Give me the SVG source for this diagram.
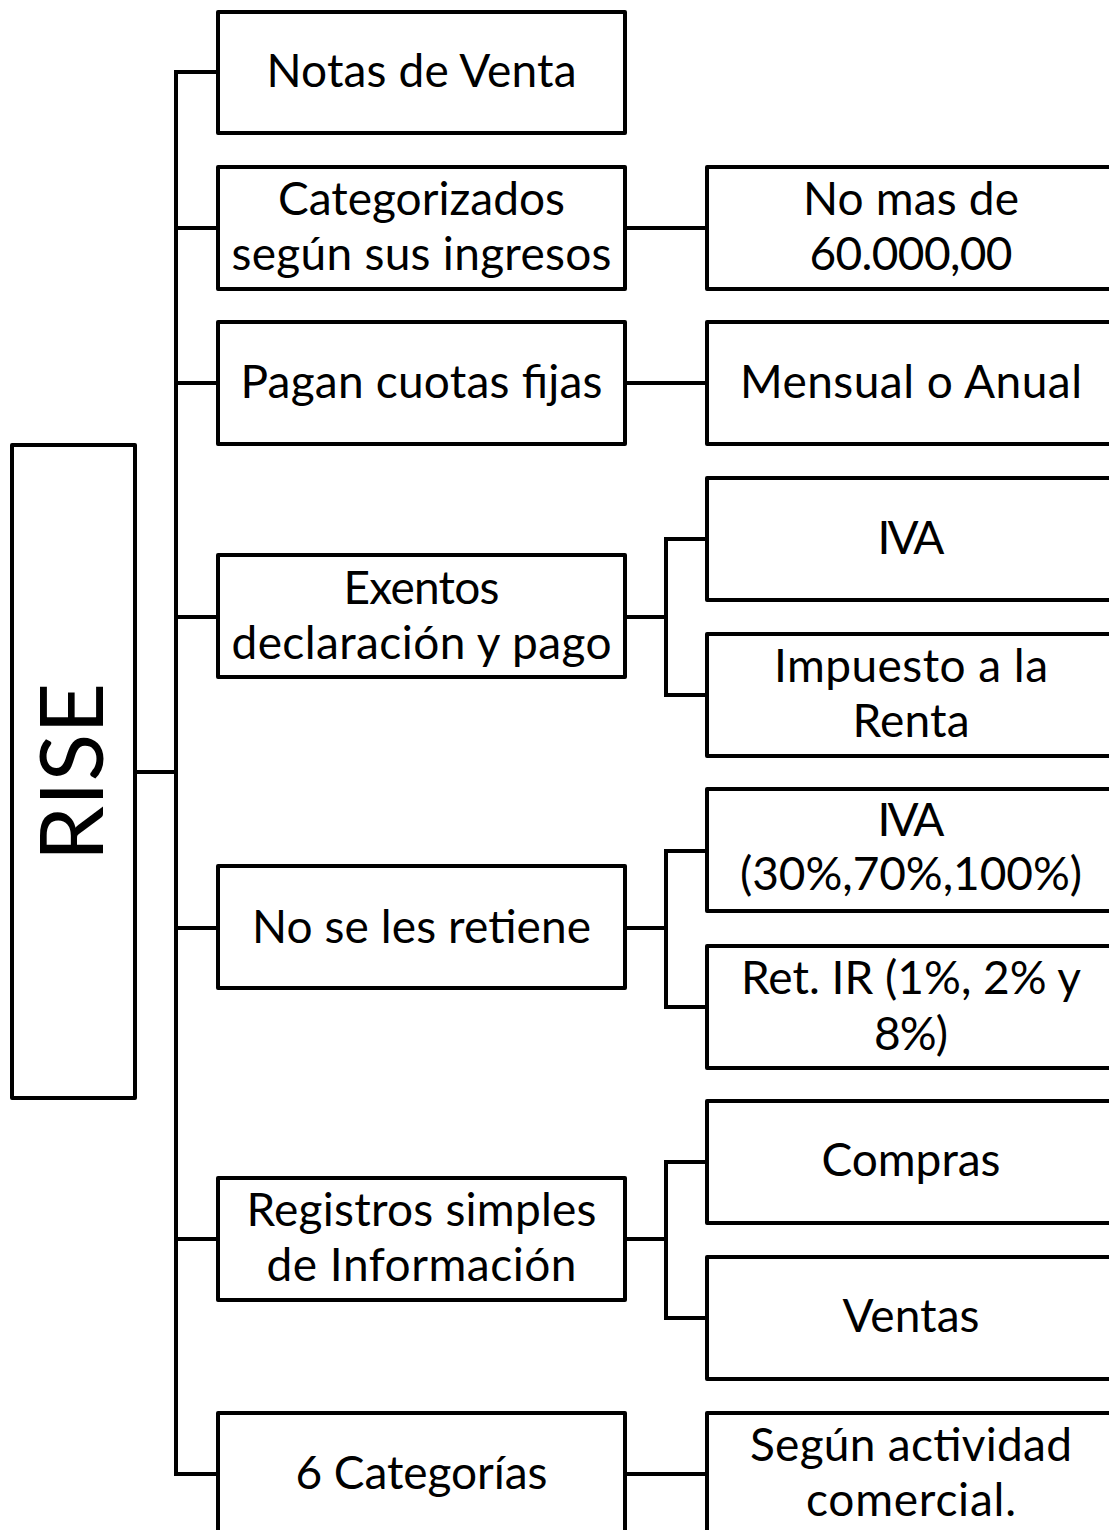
<svg xmlns="http://www.w3.org/2000/svg" width="1109" height="1530" viewBox="0 0 1109 1530">
<style>
.box{fill:#fff;stroke:#000;stroke-width:4;stroke-linejoin:round}
.t{font-family:Lato,"Liberation Sans",sans-serif;font-size:46px;fill:#000;text-anchor:middle}
.big{font-family:Lato,"Liberation Sans",sans-serif;font-size:88px;fill:#000;text-anchor:middle}
.c{fill:none;stroke:#000;stroke-width:4;stroke-linecap:square}
</style>
<rect width="1109" height="1530" fill="#fff"/>
<g id="connectors">
<path class="c" d="M135 772H176M176 72V1474"/>
<path class="c" d="M176 72H218M176 228H218M176 383H218M176 617H218M176 928H218M176 1239H218M176 1474H218"/>
<path class="c" d="M625 228H707M625 383H707M625 1474H707"/>
<path class="c" d="M625 617H666M666 539V695H707M666 539H707"/>
<path class="c" d="M625 928H666M666 851V1007H707M666 851H707"/>
<path class="c" d="M625 1239H666M666 1162V1318H707M666 1162H707"/>
</g>
<g id="rise"><rect class="box" x="12" y="445" width="123" height="653"/><text class="big" transform="translate(103 772) rotate(-90)">RISE</text></g>
<g id="notas"><rect class="box" x="218" y="12" width="407" height="121"/><text class="t" x="421.5" y="87" textLength="310">Notas de Venta</text></g>
<g id="categorizados"><rect class="box" x="218" y="167" width="407" height="122"/><text class="t" x="421.5" y="215" textLength="287">Categorizados</text><text class="t" x="421.5" y="270" textLength="380">según sus ingresos</text></g>
<g id="pagan"><rect class="box" x="218" y="322" width="407" height="122"/><text class="t" x="421.5" y="398" textLength="362">Pagan cuotas fijas</text></g>
<g id="exentos"><rect class="box" x="218" y="555" width="407" height="122"/><text class="t" x="421.5" y="604" textLength="156">Exentos</text><text class="t" x="421.5" y="659" textLength="380">declaración y pago</text></g>
<g id="noseles"><rect class="box" x="218" y="866" width="407" height="122"/><text class="t" x="421.5" y="943" textLength="339">No se les retiene</text></g>
<g id="registros"><rect class="box" x="218" y="1178" width="407" height="122"/><text class="t" x="421.5" y="1226" textLength="350">Registros simples</text><text class="t" x="421.5" y="1281" textLength="310">de Información</text></g>
<g id="seiscat"><rect class="box" x="218" y="1413" width="407" height="122"/><text class="t" x="421.5" y="1489" textLength="252">6 Categorías</text></g>
<g id="nomas"><rect class="box" x="707" y="167" width="408" height="122"/><text class="t" x="911" y="215" textLength="216">No mas de</text><text class="t" x="911" y="270" textLength="203">60.000,00</text></g>
<g id="mensual"><rect class="box" x="707" y="322" width="408" height="122"/><text class="t" x="911" y="398" textLength="342">Mensual o Anual</text></g>
<g id="iva1"><rect class="box" x="707" y="478" width="408" height="122"/><text class="t" x="911" y="554" textLength="67">IVA</text></g>
<g id="impuesto"><rect class="box" x="707" y="634" width="408" height="122"/><text class="t" x="911" y="682" textLength="274">Impuesto a la</text><text class="t" x="911" y="737" textLength="117">Renta</text></g>
<g id="iva2"><rect class="box" x="707" y="789" width="408" height="122"/><text class="t" x="911" y="836" textLength="67">IVA</text><text class="t" x="911" y="890" textLength="342">(30%,70%,100%)</text></g>
<g id="retir"><rect class="box" x="707" y="946" width="408" height="122"/><text class="t" x="911" y="994" textLength="340">Ret. IR (1%, 2% y</text><text class="t" x="911" y="1050" textLength="74">8%)</text></g>
<g id="compras"><rect class="box" x="707" y="1101" width="408" height="122"/><text class="t" x="911" y="1176" textLength="179">Compras</text></g>
<g id="ventas"><rect class="box" x="707" y="1257" width="408" height="122"/><text class="t" x="911" y="1332" textLength="137">Ventas</text></g>
<g id="segun"><rect class="box" x="707" y="1413" width="408" height="122"/><text class="t" x="911" y="1461" textLength="322">Según actividad</text><text class="t" x="911" y="1516" textLength="210">comercial.</text></g>
</svg>
